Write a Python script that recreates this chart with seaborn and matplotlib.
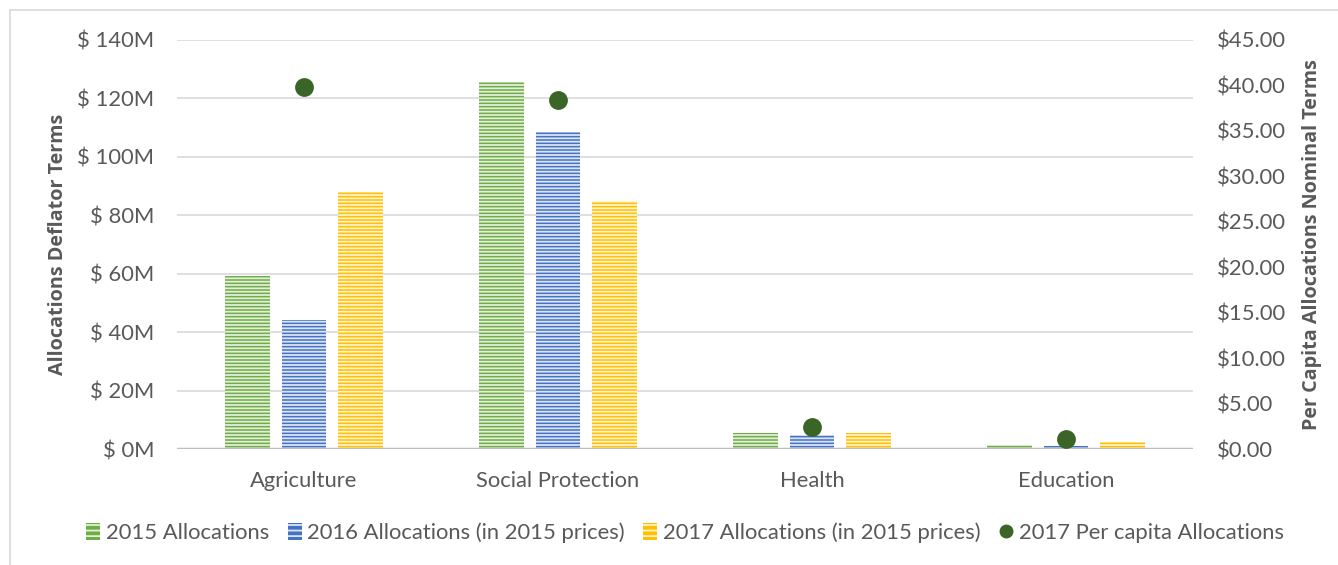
import numpy as np
import pandas as pd
import matplotlib
matplotlib.use("Agg")
import matplotlib.pyplot as plt
import seaborn as sns
from matplotlib.patches import Patch, Rectangle
from matplotlib.lines import Line2D

sns.set_style("white")
plt.rcParams['font.family'] = ['Lato', 'DejaVu Sans']
plt.rcParams['hatch.linewidth'] = 1.3

categories = ['Agriculture', 'Social Protection', 'Health', 'Education']
series_names = ['2015 Allocations', '2016 Allocations (in 2015 prices)',
                '2017 Allocations (in 2015 prices)']
alloc_2015 = [59.2, 125.7, 5.4, 1.4]
alloc_2016 = [44.2, 108.4, 4.8, 1.1]
alloc_2017 = [88.1, 84.8, 5.4, 2.5]
per_capita_2017 = [39.85, 38.4, 2.45, 1.05]
dot_name = '2017 Per capita Allocations'

bar_colors = ['#70ad47', '#4472c4', '#ffc000']
stripe_colors = ['#e2efd9', '#dde5f5', '#fff2cc']
dot_color = '#3b6427'
txt = '#595959'

df = pd.DataFrame({
    'category': categories * 3,
    'series': [s for s in series_names for _ in categories],
    'value': alloc_2015 + alloc_2016 + alloc_2017,
})

fig = plt.figure(figsize=(13.38, 5.65), dpi=100)
# outer chart frame
fig.patches.append(Rectangle((10 / 1338, -0.1), 1.2, 1 - 10 / 565 + 0.1,
                             transform=fig.transFigure, fill=False,
                             edgecolor='#d9d9d9', lw=1.2))
ax = fig.add_axes([177 / 1338, 1 - 449 / 565, (1193 - 177) / 1338, 409 / 565])

sns.barplot(data=df, x='category', y='value', hue='series', order=categories,
            hue_order=series_names, palette=bar_colors, width=0.67, gap=0.21,
            saturation=1, ax=ax, legend=False, zorder=3)
for cont, sc in zip(ax.containers, stripe_colors):
    for bar in cont:
        bar.set_hatch('-----')
        bar.set_edgecolor(sc)
        bar.set_linewidth(0)

ax.set_ylim(0, 140)
ax.set_yticks(np.arange(0, 141, 20))
ax.set_yticklabels([f'$ {v}M' for v in range(0, 141, 20)])
ax.yaxis.grid(True, color='#d9d9d9', lw=1.2, zorder=0)
ax.set_axisbelow(True)
ax.axhline(0, color='#bfbfbf', lw=2.5, zorder=4)
for s in ax.spines.values():
    s.set_visible(False)
ax.tick_params(axis='both', length=0, labelsize=15.8, colors=txt)
ax.tick_params(axis='y', pad=16.5)
ax.tick_params(axis='x', pad=16)
ax.set_xlabel('')
ax.set_ylabel('Allocations Deflator Terms', fontsize=14.2, fontweight='bold',
              color=txt, family='Open Sans')
ax.yaxis.set_label_coords(-0.1073, 0.5)

ax2 = ax.twinx()
sns.pointplot(x=categories, y=per_capita_2017, order=categories, color=dot_color,
              linestyle='none', markers='o', markersize=11.5, errorbar=None, ax=ax2)
ax2.set_ylim(0, 45)
ax2.set_yticks(np.arange(0, 46, 5))
ax2.set_yticklabels([f'${v:.2f}' for v in range(0, 46, 5)])
for s in ax2.spines.values():
    s.set_visible(False)
ax2.tick_params(axis='y', length=0, labelsize=15.8, colors=txt, pad=17)
ax2.set_ylabel('Per Capita Allocations Nominal Terms', fontsize=14.2,
               fontweight='bold', color=txt, family='Open Sans')
ax2.yaxis.set_label_coords(1.1073, 0.5)
ax2.set_xlabel('')
ax.set_xlim(-0.5, 3.5)

handles = [Patch(facecolor=c, edgecolor=sc, hatch='---', lw=0)
           for c, sc in zip(bar_colors, stripe_colors)]
handles.append(Line2D([], [], marker='o', color=dot_color, linestyle='none',
                      markersize=9))
leg = fig.legend(handles, series_names + [dot_name], loc='center',
                 bbox_to_anchor=(685 / 1338, 1 - 533 / 565), ncol=4,
                 frameon=False, fontsize=15.8, handlelength=0.64,
                 handleheight=0.8, handletextpad=0.25, columnspacing=0.85)
for t in leg.get_texts():
    t.set_color(txt)

fig.savefig('out.png', dpi=100)
